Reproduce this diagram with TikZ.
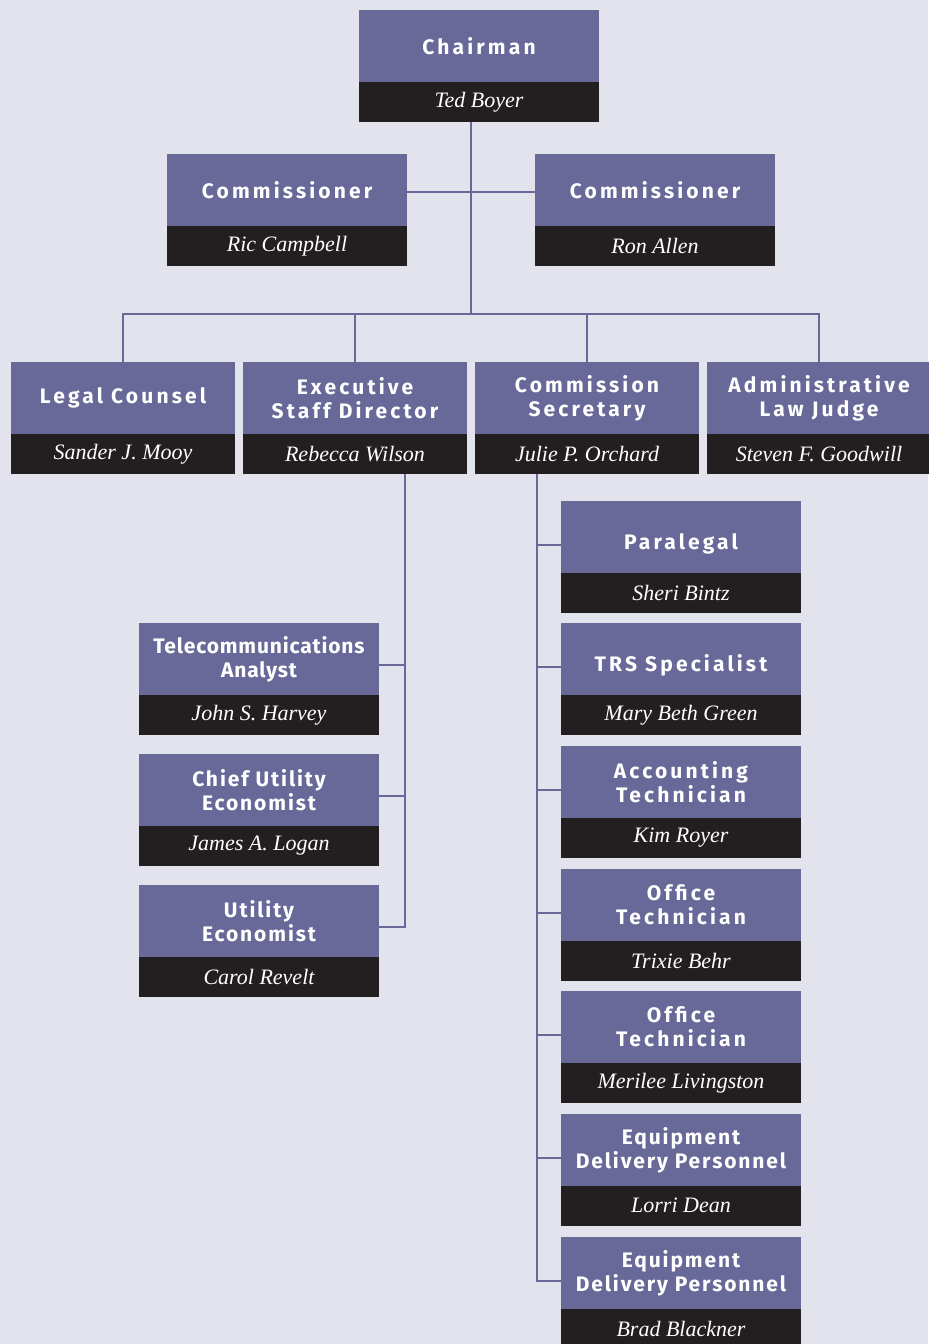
\documentclass[tikz,border=0pt]{standalone}
\usepackage{fontspec}
\setmainfont{Liberation Serif}
\newfontfamily\titlefont{Fira Sans}[LetterSpace=15]
\newfontfamily\snugtitlefont{Fira Sans}[LetterSpace=9]
\newfontfamily\plaintitlefont{Fira Sans}[LetterSpace=4]
\usetikzlibrary{positioning}
\tikzset{
	% purple title part of a box
	post/.style={
		rectangle,
		fill=orgpurple,
		text=white,
		inner sep=0,
		minimum width=120pt,
		minimum height=36pt,
		align=center,
		font=\titlefont\bfseries\fontsize{10.5}{12}\selectfont
	},
	narrowpost/.style={post, minimum width=112pt},
	lowpost/.style={post, text height=15pt},
	snugpost/.style={post, font=\snugtitlefont\bfseries\fontsize{10.5}{12}\selectfont},
	plainpost/.style={post, font=\plaintitlefont\bfseries\fontsize{10.5}{12}\selectfont},
	% black name bar under a box
	person/.style={
		rectangle,
		fill=orgblack,
		text=white,
		inner sep=0,
		minimum width=120pt,
		minimum height=20pt,
		font=\itshape\fontsize{11}{13}\selectfont
	},
	narrowperson/.style={person, minimum width=112pt},
	% connector
	link/.style={
		draw=orgpurple,
		line width=1pt
	}
}
\definecolor{orgpurple}{HTML}{686899}
\definecolor{orgblack}{HTML}{231F20}
\definecolor{orgback}{HTML}{E3E3ED}

\begin{document}
\begin{tikzpicture}[x=0.5pt, y=-0.5pt]
\useasboundingbox (0,0) rectangle (928,1344);
\fill[orgback] (0,0) rectangle (928,1344);

% commission
\node[post] at (479,46) (chair) {Chairman};
\node[person, below=-0.5pt of chair] (chairN) {Ted Boyer};
\node[post] at (287,190) (comL) {Commissioner};
\node[person, below=-0.5pt of comL] (comLN) {Ric Campbell};
\node[post] at (655,190) (comR) {Commissioner};
\node[person, below=-0.5pt of comR] (comRN) {Ron Allen};

% staff heads
\node[narrowpost] at (123,398) (legal) {Legal Counsel};
\node[narrowperson, below=-0.5pt of legal] (legalN) {Sander J. Mooy};
\node[narrowpost] at (355,398) (exec) {Executive\\Staff Director};
\node[narrowperson, below=-0.5pt of exec] (execN) {Rebecca Wilson};
\node[narrowpost] at (587,398) (secr) {Commission\\Secretary};
\node[narrowperson, below=-0.5pt of secr] (secrN) {Julie P. Orchard};
\node[narrowpost] at (819,398) (alj) {Administrative\\Law Judge};
\node[narrowperson, below=-0.5pt of alj] (aljN) {Steven F. Goodwill};

% under the executive staff director
\node[plainpost] at (259,659) (telecom) {Telecommunications\\Analyst};
\node[person, below=-0.5pt of telecom] (telecomN) {John S. Harvey};
\node[snugpost] at (259,790) (chiefEcon) {Chief Utility\\Economist};
\node[person, below=-0.5pt of chiefEcon] (chiefEconN) {James A. Logan};
\node[snugpost] at (259,921) (utilEcon) {Utility\\Economist};
\node[person, below=-0.5pt of utilEcon] (utilEconN) {Carol Revelt};

% under the commission secretary
\node[lowpost] at (681,537) (paralegal) {Paralegal};
\node[person, below=-0.5pt of paralegal] (paralegalN) {Sheri Bintz};
\node[lowpost] at (681,659) (trs) {TRS Specialist};
\node[person, below=-0.5pt of trs] (trsN) {Mary Beth Green};
\node[post] at (681,782) (acct) {Accounting\\Technician};
\node[person, below=-0.5pt of acct] (acctN) {Kim Royer};
\node[post] at (681,905) (officeA) {Office\\Technician};
\node[person, below=-0.5pt of officeA] (officeAN) {Trixie Behr};
\node[post] at (681,1027) (officeB) {Office\\Technician};
\node[person, below=-0.5pt of officeB] (officeBN) {Merilee Livingston};
\node[snugpost] at (681,1150) (equipA) {Equipment\\Delivery Personnel};
\node[person, below=-0.5pt of equipA] (equipAN) {Lorri Dean};
\node[snugpost] at (681,1273) (equipB) {Equipment\\Delivery Personnel};
\node[person, below=-0.5pt of equipB] (equipBN) {Brad Blackner};

% lines from the chairman
\coordinate (trunk) at ([xshift=-4pt]chairN.south);
\coordinate (bus) at (471,314);
\path[link] (trunk) -- (bus);
\path[link] ([yshift=-1pt]comL.east) -- ([yshift=-1pt]comR.west);
\path[link] (legal.north) -- (legal.north |- bus) -- (alj.north |- bus) -- (alj.north);
\path[link] (exec.north) -- (exec.north |- bus);
\path[link] (secr.north) -- (secr.north |- bus);

% lines to the staff
\coordinate (execBr) at ([xshift=25pt]execN.south);
\foreach \n in {telecom, chiefEcon, utilEcon}
	\path[link] ([yshift=-3pt]\n.east) -| (execBr);
\coordinate (secrBr) at ([xshift=-25pt]secrN.south);
\foreach \n in {paralegal, trs, acct, officeA, officeB, equipA, equipB}
	\path[link] ([yshift=-4pt]\n.west) -| (secrBr);

\end{tikzpicture}
\end{document}
